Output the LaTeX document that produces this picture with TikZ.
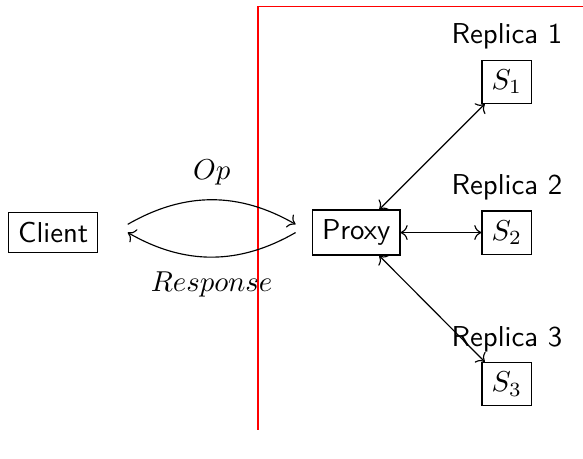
\documentclass[tikz,border=0pt]{standalone}
\usetikzlibrary{arrows.meta}

\begin{document}
\begin{tikzpicture}
	[box/.style={draw, font=\sffamily}, every label/.style={font=\sffamily}]
	\useasboundingbox (0,0) rectangle (7.12,5.6);

	%boundary of the service
	\draw[red] (7.12,5.52) -- (3.15,5.52) -- (3.15,0.35);

	%nodes
	\node (client) [box] at (0.65,2.76) {Client};
	\node (proxy) [box] at (4.35,2.76) {Proxy};
	\node (s1) [box, label=above:Replica 1] at (6.19,4.6) {$S_1$};
	\node (s2) [box, label=above:Replica 2] at (6.19,2.76) {$S_2$};
	\node (s3) [box, label=above:Replica 3] at (6.19,0.91) {$S_3$};

	%request and answer
	\coordinate (opA) at (1.56,2.86);
	\coordinate (opB) at (3.61,2.86);
	\coordinate (respA) at (3.61,2.76);
	\coordinate (respB) at (1.56,2.76);
	\draw[->] (opA) to[bend left=30] node[above=1.5pt]{$Op$} (opB);
	\draw[->] (respA) to[bend left=30] node[below=1.5pt]{$Response$} (respB);

	%proxy to replicas
	\draw[<->] (proxy) -- (s1);
	\draw[<->] (proxy) -- (s2);
	\draw[<->] (proxy) -- (s3);
\end{tikzpicture}
\end{document}
